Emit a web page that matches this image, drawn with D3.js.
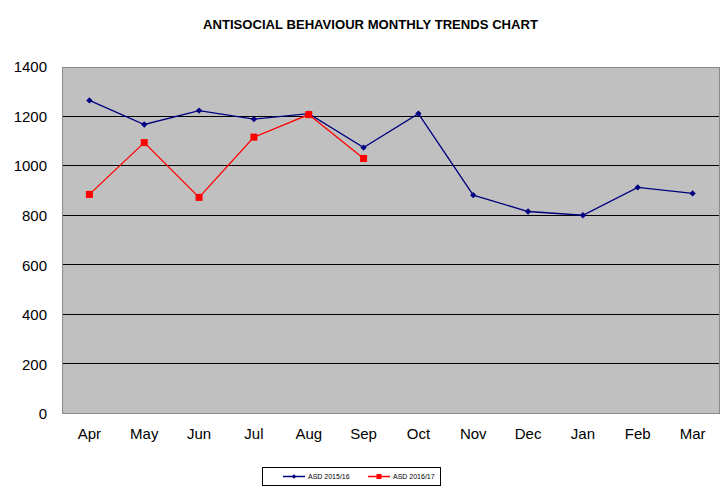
<!DOCTYPE html>
<html>
<head>
<meta charset="utf-8">
<script src="https://cdn.jsdelivr.net/npm/d3@7"></script>
<style>
  body { margin: 0; background: #fff; }
  text { font-family: "Liberation Sans", Arial, sans-serif; }
</style>
</head>
<body>
<div id="chart"></div>
<script>
const months = ["Apr", "May", "Jun", "Jul", "Aug", "Sep", "Oct", "Nov", "Dec", "Jan", "Feb", "Mar"];
const asd1516 = [1265, 1168, 1224, 1190, 1212, 1075, 1212, 883, 817, 802, 914, 890];
const asd1617 = [886, 1095, 874, 1117, 1208, 1031];
const yTicks = [0, 200, 400, 600, 800, 1000, 1200, 1400];

const W = 724, H = 499;
const margin = { top: 67, right: 4, bottom: 85, left: 62 };
const width = W - margin.left - margin.right;
const height = H - margin.top - margin.bottom;

const svg = d3.select("#chart").append("svg")
  .attr("width", W).attr("height", H);

svg.append("text")
  .attr("x", 203).attr("y", 29)
  .attr("font-size", 12.5).attr("font-weight", "bold")
  .attr("textLength", 335).attr("lengthAdjust", "spacingAndGlyphs")
  .text("ANTISOCIAL BEHAVIOUR MONTHLY TRENDS CHART");

const g = svg.append("g")
  .attr("transform", `translate(${margin.left},${margin.top})`);

const x = d3.scaleBand().domain(months).range([0, width]);
const y = d3.scaleLinear().domain([0, 1400]).range([height, 0]);

// plot background
g.append("rect")
  .attr("width", width).attr("height", height)
  .attr("fill", "#c0c0c0");

// gridlines
g.selectAll(".grid")
  .data(yTicks.filter(d => d > 0 && d < 1400))
  .enter().append("line")
  .attr("x1", 0).attr("x2", width)
  .attr("y1", d => Math.round(y(d)) - 0.5).attr("y2", d => Math.round(y(d)) - 0.5)
  .attr("stroke", "#000").attr("stroke-width", 1)
  .attr("shape-rendering", "crispEdges");

g.append("rect")
  .attr("x", 0.5).attr("y", 0.5)
  .attr("width", width - 1).attr("height", height - 1)
  .attr("fill", "none").attr("stroke", "#8a8a8a").attr("stroke-width", 1);

// Axes
const yAxis = g.append("g")
  .call(d3.axisLeft(y).tickValues(yTicks).tickFormat(d3.format("d")).tickSize(0).tickPadding(15));
yAxis.select(".domain").remove();
yAxis.selectAll("text").attr("font-size", 15).attr("fill", "#000")
  .style("font-family", "'Liberation Sans', Arial, sans-serif");

const xAxis = g.append("g")
  .attr("transform", `translate(0,${height})`)
  .call(d3.axisBottom(x).tickSize(0).tickPadding(14));
xAxis.select(".domain").remove();
xAxis.selectAll("text").attr("font-size", 15).attr("fill", "#000")
  .style("font-family", "'Liberation Sans', Arial, sans-serif");

const cx = (d, i) => x(months[i]) + x.bandwidth() / 2;

const line = d3.line()
  .x((d, i) => cx(d, i))
  .y(d => y(d));

// ASD 2015/16
g.append("path")
  .datum(asd1516)
  .attr("fill", "none").attr("stroke", "#000080").attr("stroke-width", 1.3)
  .attr("d", line);

g.selectAll(".m1")
  .data(asd1516)
  .enter().append("path")
  .attr("transform", (d, i) => `translate(${cx(d, i)},${y(d)}) rotate(45)`)
  .attr("d", d3.symbol(d3.symbolSquare, 20))
  .attr("fill", "#000080");

// ASD 2016/17
g.append("path")
  .datum(asd1617)
  .attr("fill", "none").attr("stroke", "#ff0000").attr("stroke-width", 1.3)
  .attr("d", line);

g.selectAll(".m2")
  .data(asd1617)
  .enter().append("rect")
  .attr("x", (d, i) => cx(d, i) - 3.5)
  .attr("y", d => y(d) - 3.5)
  .attr("width", 7).attr("height", 7)
  .attr("fill", "#ff0000");

// Legend
const legend = svg.append("g");
legend.append("rect")
  .attr("x", 262.5).attr("y", 467.5).attr("width", 178).attr("height", 18)
  .attr("fill", "#fff").attr("stroke", "#000").attr("stroke-width", 1);

const items = [
  { name: "ASD 2015/16", color: "#000080", x: 283, shape: "diamond" },
  { name: "ASD 2016/17", color: "#ff0000", x: 368, shape: "square" }
];
items.forEach(it => {
  legend.append("line")
    .attr("x1", it.x).attr("x2", it.x + 22)
    .attr("y1", 476.5).attr("y2", 476.5)
    .attr("stroke", it.color).attr("stroke-width", 1.5);
  if (it.shape === "diamond") {
    legend.append("path")
      .attr("transform", `translate(${it.x + 11},476.5) rotate(45)`)
      .attr("d", d3.symbol(d3.symbolSquare, 10))
      .attr("fill", it.color);
  } else {
    legend.append("rect")
      .attr("x", it.x + 8.5).attr("y", 474).attr("width", 5).attr("height", 5)
      .attr("fill", it.color);
  }
  legend.append("text")
    .attr("x", it.x + 25).attr("y", 479)
    .attr("font-size", 7)
    .text(it.name);
});
</script>
</body>
</html>
